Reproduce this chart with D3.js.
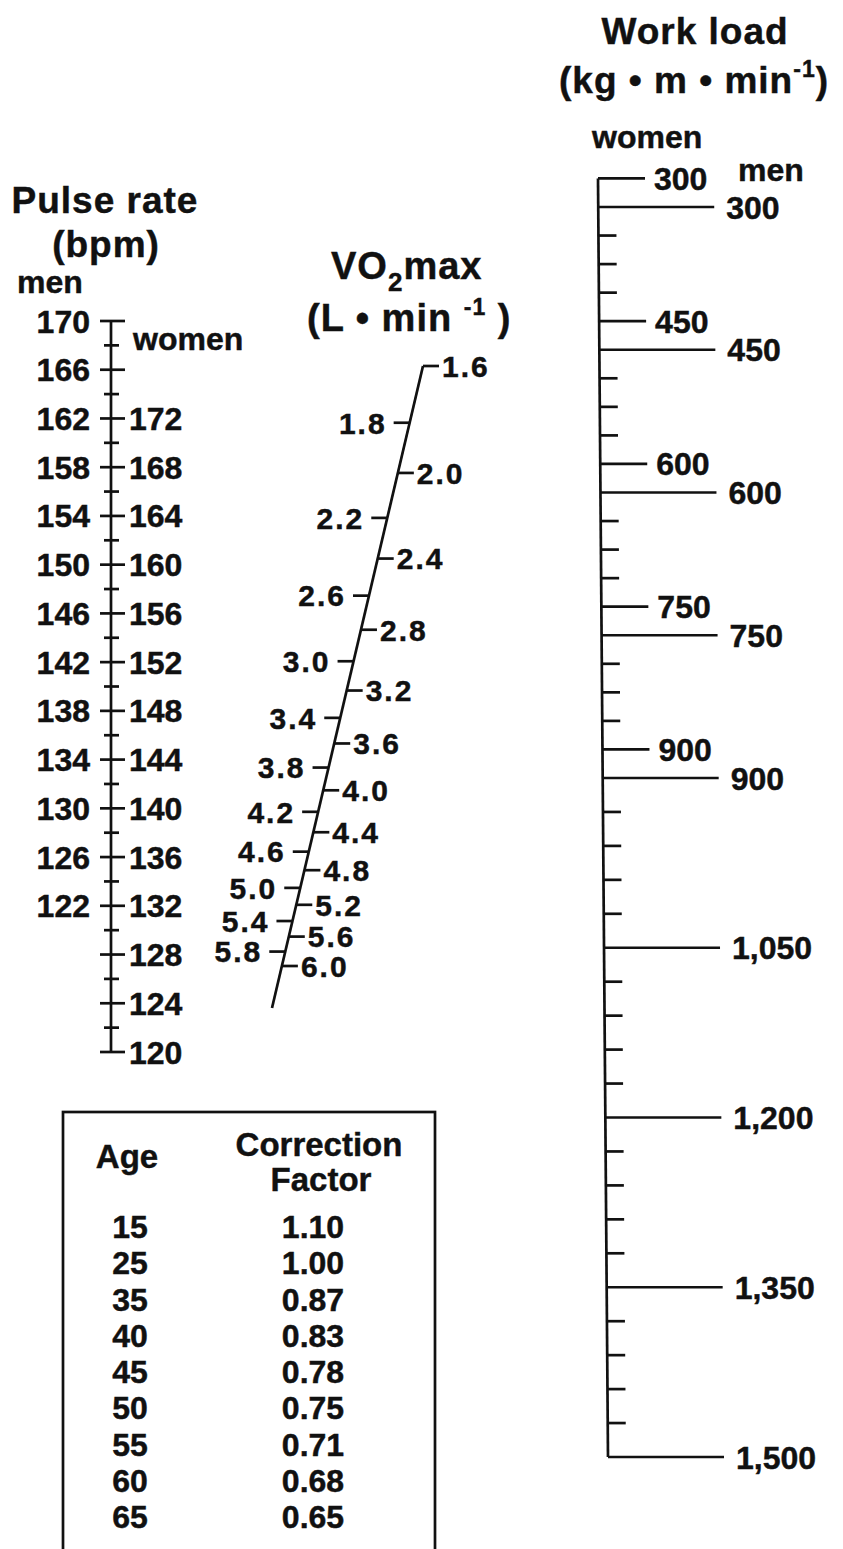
<!DOCTYPE html>
<html>
<head>
<meta charset="utf-8">
<script src="https://cdn.jsdelivr.net/npm/d3@7"></script>
<style>
  body { margin: 0; background: #fff; }
  svg { display: block; }
  text { font-family: "Liberation Sans", Arial, Helvetica, sans-serif; font-weight: bold; fill: #111; stroke: #111; stroke-width: 0.45px; }
</style>
</head>
<body>
<svg id="chart"></svg>
<script>
// pulse rate (bpm) - men scale, women scale sits 10 bpm higher
const pulseMen = [170, 166, 162, 158, 154, 150, 146, 142, 138, 134, 130, 126, 122];
const pulseWomen = [172, 168, 164, 160, 156, 152, 148, 144, 140, 136, 132, 128, 124, 120];
const pulseWomenOffset = 10;
const pulseTop = 170, pulseBottom = 110, pulseStep = 2;

// VO2max (L/min), labels alternate left / right of the slanted scale
const vo2Left = [1.8, 2.2, 2.6, 3.0, 3.4, 3.8, 4.2, 4.6, 5.0, 5.4, 5.8];
const vo2Right = [1.6, 2.0, 2.4, 2.8, 3.2, 3.6, 4.0, 4.4, 4.8, 5.2, 5.6, 6.0];

// work load (kg m / min) - women's value w sits at men's w - 30
const workMen = [300, 450, 600, 750, 900, 1050, 1200, 1350, 1500];
const workWomen = [300, 450, 600, 750, 900];
const workWomenOffset = 30;
const workStep = 30;

// age correction table
const ages = [15, 25, 35, 40, 45, 50, 55, 60, 65];
const factors = [1.10, 1.00, 0.87, 0.83, 0.78, 0.75, 0.71, 0.68, 0.65];

const w = 843;
const h = 1549;
const ink = "#111";
const lw = 2.7;
const fs = 32;
const titleFs = 37;

const svg = d3.select("#chart")
    .attr("width", w)
    .attr("height", h)
    .attr("viewBox", [0, 0, w, h]);

svg.append("rect").attr("width", w).attr("height", h).attr("fill", "white");

function seg(g, x1, y1, x2, y2) {
    return g.append("line")
        .attr("x1", x1).attr("y1", y1).attr("x2", x2).attr("y2", y2)
        .attr("stroke", ink).attr("stroke-width", lw);
}

// ---------- pulse rate ----------
const pulse = svg.append("g");
const pulseX = 111;
const pulseY = d3.scaleLinear().domain([pulseTop, pulseBottom]).range([321, 1052]);

seg(pulse, pulseX, pulseY(pulseTop), pulseX, pulseY(pulseBottom));

pulse.selectAll("line.ptick")
    .data(d3.range(pulseTop, pulseBottom - 1, -pulseStep))
    .join("line")
    .attr("class", "ptick")
    .each(function(v) {
        const major = pulseMen.includes(v) || pulseWomen.includes(v + pulseWomenOffset);
        d3.select(this)
            .attr("x1", pulseX - (major ? 11 : 7))
            .attr("x2", pulseX + (major ? 14 : 8))
            .attr("y1", pulseY(v))
            .attr("y2", pulseY(v));
    })
    .attr("stroke", ink)
    .attr("stroke-width", lw);

pulse.selectAll("text.pmen")
    .data(pulseMen)
    .join("text")
    .attr("class", "pmen")
    .attr("x", pulseX - 21)
    .attr("y", d => pulseY(d))
    .attr("dy", "0.36em")
    .attr("text-anchor", "end")
    .attr("font-size", fs)
    .text(d => d);

pulse.selectAll("text.pwomen")
    .data(pulseWomen)
    .join("text")
    .attr("class", "pwomen")
    .attr("x", pulseX + 18)
    .attr("y", d => pulseY(d - pulseWomenOffset))
    .attr("dy", "0.36em")
    .attr("font-size", fs)
    .text(d => d);

pulse.append("text").attr("x", 105).attr("y", 213).attr("text-anchor", "middle")
    .attr("font-size", titleFs).attr("letter-spacing", 1).text("Pulse rate");
pulse.append("text").attr("x", 106).attr("y", 257).attr("text-anchor", "middle")
    .attr("font-size", titleFs).attr("letter-spacing", 1).text("(bpm)");
pulse.append("text").attr("x", 17).attr("y", 293).attr("font-size", fs).text("men");
pulse.append("text").attr("x", 133).attr("y", 350).attr("font-size", fs).text("women");

// ---------- VO2max ----------
const vo2 = svg.append("g");
const vo2Y = d3.scalePow().exponent(-0.1).domain([1.6, 6.0]).range([366, 966]);
const vo2End = 1008;
const vo2LineX = d3.scaleLinear().domain([vo2Y(1.6), vo2End]).range([423, 272]);
const vfs = 30;

seg(vo2, vo2LineX(vo2Y(1.6)), vo2Y(1.6), vo2LineX(vo2End), vo2End);

vo2.selectAll("line.vl")
    .data(vo2Left)
    .join("line")
    .attr("class", "vl")
    .attr("x1", d => vo2LineX(vo2Y(d)) - 16)
    .attr("x2", d => vo2LineX(vo2Y(d)))
    .attr("y1", d => vo2Y(d))
    .attr("y2", d => vo2Y(d))
    .attr("stroke", ink).attr("stroke-width", lw);

vo2.selectAll("line.vr")
    .data(vo2Right)
    .join("line")
    .attr("class", "vr")
    .attr("x1", d => vo2LineX(vo2Y(d)))
    .attr("x2", d => vo2LineX(vo2Y(d)) + 16)
    .attr("y1", d => vo2Y(d))
    .attr("y2", d => vo2Y(d))
    .attr("stroke", ink).attr("stroke-width", lw);

vo2.selectAll("text.vl")
    .data(vo2Left)
    .join("text")
    .attr("class", "vl")
    .attr("x", d => vo2LineX(vo2Y(d)) - 23)
    .attr("y", d => vo2Y(d))
    .attr("dy", "0.36em")
    .attr("text-anchor", "end")
    .attr("font-size", vfs)
    .attr("letter-spacing", 2)
    .text(d => d.toFixed(1));

vo2.selectAll("text.vr")
    .data(vo2Right)
    .join("text")
    .attr("class", "vr")
    .attr("x", d => vo2LineX(vo2Y(d)) + 19)
    .attr("y", d => vo2Y(d))
    .attr("dy", "0.36em")
    .attr("font-size", vfs)
    .attr("letter-spacing", 2)
    .text(d => d.toFixed(1));

const vt = vo2.append("text").attr("x", 331).attr("y", 279).attr("font-size", 38).attr("letter-spacing", 1);
vt.append("tspan").text("VO");
vt.append("tspan").attr("font-size", 26).attr("dy", 12).text("2");
vt.append("tspan").attr("dy", -12).text("max");

const vu = vo2.append("text").attr("x", 307).attr("y", 331).attr("font-size", 38).attr("letter-spacing", 1);
vu.append("tspan").text("(L \u2022 min ");
vu.append("tspan").attr("font-size", 23).attr("dy", -16).text("-1");
vu.append("tspan").attr("dy", 16).text(" )");

// ---------- work load ----------
const work = svg.append("g");
const workY = d3.scaleLinear().domain([300, 900, 1500]).range([207, 778, 1457]);
// the scanned axis leans slightly to the right as it goes down
const workX = d3.scaleLinear().domain([178, 1457]).range([598, 608]);
const fmt = d3.format(",");
const wy0 = workY(workWomen[0] - workWomenOffset);
const wy1 = workY(d3.max(workMen));

seg(work, workX(wy0), wy0, workX(wy1), wy1);

const minor = d3.range(workMen[0], d3.max(workMen) + 1, workStep)
    .filter(v => !workMen.includes(v) && !workWomen.includes(v + workWomenOffset));

work.selectAll("line.wmin")
    .data(minor)
    .join("line")
    .attr("class", "wmin")
    .attr("x1", d => workX(workY(d))).attr("x2", d => workX(workY(d)) + 18)
    .attr("y1", d => workY(d)).attr("y2", d => workY(d))
    .attr("stroke", ink).attr("stroke-width", lw);

work.selectAll("line.wmen")
    .data(workMen)
    .join("line")
    .attr("class", "wmen")
    .attr("x1", d => workX(workY(d))).attr("x2", d => workX(workY(d)) + 116)
    .attr("y1", d => workY(d)).attr("y2", d => workY(d))
    .attr("stroke", ink).attr("stroke-width", lw);

work.selectAll("line.wwomen")
    .data(workWomen)
    .join("line")
    .attr("class", "wwomen")
    .attr("x1", d => workX(workY(d - workWomenOffset))).attr("x2", d => workX(workY(d - workWomenOffset)) + 47)
    .attr("y1", d => workY(d - workWomenOffset)).attr("y2", d => workY(d - workWomenOffset))
    .attr("stroke", ink).attr("stroke-width", lw);

work.selectAll("text.wmen")
    .data(workMen)
    .join("text")
    .attr("class", "wmen")
    .attr("x", d => workX(workY(d)) + 128)
    .attr("y", d => workY(d))
    .attr("dy", "0.36em")
    .attr("font-size", fs)
    .text(d => fmt(d));

work.selectAll("text.wwomen")
    .data(workWomen)
    .join("text")
    .attr("class", "wwomen")
    .attr("x", d => workX(workY(d - workWomenOffset)) + 56)
    .attr("y", d => workY(d - workWomenOffset))
    .attr("dy", "0.36em")
    .attr("font-size", fs)
    .text(d => fmt(d));

work.append("text").attr("x", 695).attr("y", 44).attr("text-anchor", "middle")
    .attr("font-size", titleFs).attr("letter-spacing", 1).text("Work load");
const wu = work.append("text").attr("x", 694).attr("y", 93).attr("text-anchor", "middle")
    .attr("font-size", titleFs).attr("letter-spacing", 1);
wu.append("tspan").text("(kg \u2022 m \u2022 min");
wu.append("tspan").attr("font-size", 23).attr("dy", -16).text("-1");
wu.append("tspan").attr("dy", 16).text(")");
work.append("text").attr("x", 592).attr("y", 148).attr("font-size", fs).text("women");
work.append("text").attr("x", 738).attr("y", 181).attr("font-size", fs).text("men");

// ---------- correction table ----------
const table = svg.append("g");
table.append("rect")
    .attr("x", 63).attr("y", 1112)
    .attr("width", 372).attr("height", 480)
    .attr("fill", "none").attr("stroke", ink).attr("stroke-width", lw);

table.append("text").attr("x", 127).attr("y", 1168).attr("text-anchor", "middle").attr("font-size", 33).text("Age");
table.append("text").attr("x", 319).attr("y", 1156).attr("text-anchor", "middle").attr("font-size", 33).text("Correction");
table.append("text").attr("x", 321).attr("y", 1191).attr("text-anchor", "middle").attr("font-size", 33).text("Factor");

const rowY = d3.scalePoint().domain(ages).range([1238, 1528]);
const f2 = d3.format(".2f");

table.selectAll("text.age")
    .data(ages)
    .join("text")
    .attr("class", "age")
    .attr("x", 130)
    .attr("y", d => rowY(d))
    .attr("text-anchor", "middle")
    .attr("font-size", fs)
    .text(d => d);

table.selectAll("text.cf")
    .data(factors)
    .join("text")
    .attr("class", "cf")
    .attr("x", 313)
    .attr("y", (d, i) => rowY(ages[i]))
    .attr("text-anchor", "middle")
    .attr("font-size", fs)
    .text(d => f2(d));
</script>
</body>
</html>
